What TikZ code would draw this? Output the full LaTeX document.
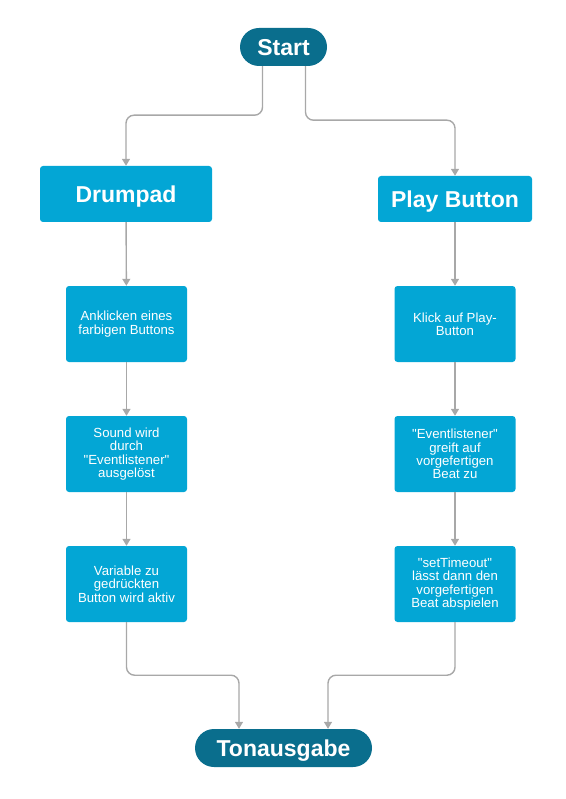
\documentclass[tikz,border=0pt]{standalone}
\usepackage{fontspec}
\setmainfont{Liberation Sans}[Ligatures=TeXOff]
\usetikzlibrary{arrows.meta}
\definecolor{termcol}{HTML}{0A6E8D}
\definecolor{boxcol}{HTML}{03A6D5}
\definecolor{linecol}{HTML}{A8A8A8}
\tikzset{
  term/.style={fill=termcol, text=white, rounded corners=19pt, inner sep=0pt,
    minimum height=38pt, text height=16.5pt, text depth=0pt,
    font=\fontsize{23}{27}\selectfont\bfseries},
  head/.style={fill=boxcol, text=white, rounded corners=3pt, inner sep=0pt,
    text height=16.5pt, text depth=0pt,
    font=\fontsize{23}{27}\selectfont\bfseries},
  stepbox/.style={fill=boxcol, text=white, rounded corners=3pt, inner sep=0pt,
    minimum width=121pt, minimum height=76pt, align=center,
    font=\fontsize{13.2}{13.4}\selectfont},
  conn/.style={draw=linecol, line width=1.4pt, rounded corners=8pt,
    -{Triangle[width=8pt,length=7pt]}}
}
\begin{document}
\begin{tikzpicture}[x=1pt,y=-1pt]
\useasboundingbox (0,0) rectangle (565,799);
\node[term, minimum width=87pt] (start) at (283.5,47) {Start};
\node[head, minimum width=172pt, minimum height=56pt] (drum) at (126,194) {Drumpad};
\node[head, minimum width=154pt, minimum height=46pt] (play) at (455,199) {Play Button};
\node[stepbox] (l1) at (126.5,324) {Anklicken eines\\farbigen Buttons};
\node[stepbox] (l2) at (126.5,454) {Sound wird\\durch\\"Eventlistener"\\ausgelöst};
\node[stepbox] (l3) at (126.5,584) {Variable zu\\gedrückten\\Button wird aktiv};
\node[stepbox] (r1) at (455,324) {Klick auf Play-\\Button};
\node[stepbox] (r2) at (455,454) {"Eventlistener"\\greift auf\\vorgefertigen\\Beat zu};
\node[stepbox] (r3) at (455,584) {"setTimeout"\\lässt dann den\\vorgefertigen\\Beat abspielen};
\node[term, minimum width=177pt] (end) at (283.5,748) {Tonausgabe};

\draw[conn] ([xshift=-21pt]start.south) -- ++(0,49) -| (drum.north);
\draw[conn] ([xshift=22pt]start.south) -- ++(0,54) -| (play.north);
\draw[conn] (drum) -- (l1);
\draw[conn] (l1) -- (l2);
\draw[conn] (l2) -- (l3);
\draw[conn] (play) -- (r1);
\draw[conn] (r1) -- (r2);
\draw[conn] (r2) -- (r3);
\draw[conn] (l3.south) -- ++(0,53) -| ([xshift=-44.5pt]end.north);
\draw[conn] (r3.south) -- ++(0,53) -| ([xshift=44.5pt]end.north);
\end{tikzpicture}
\end{document}
